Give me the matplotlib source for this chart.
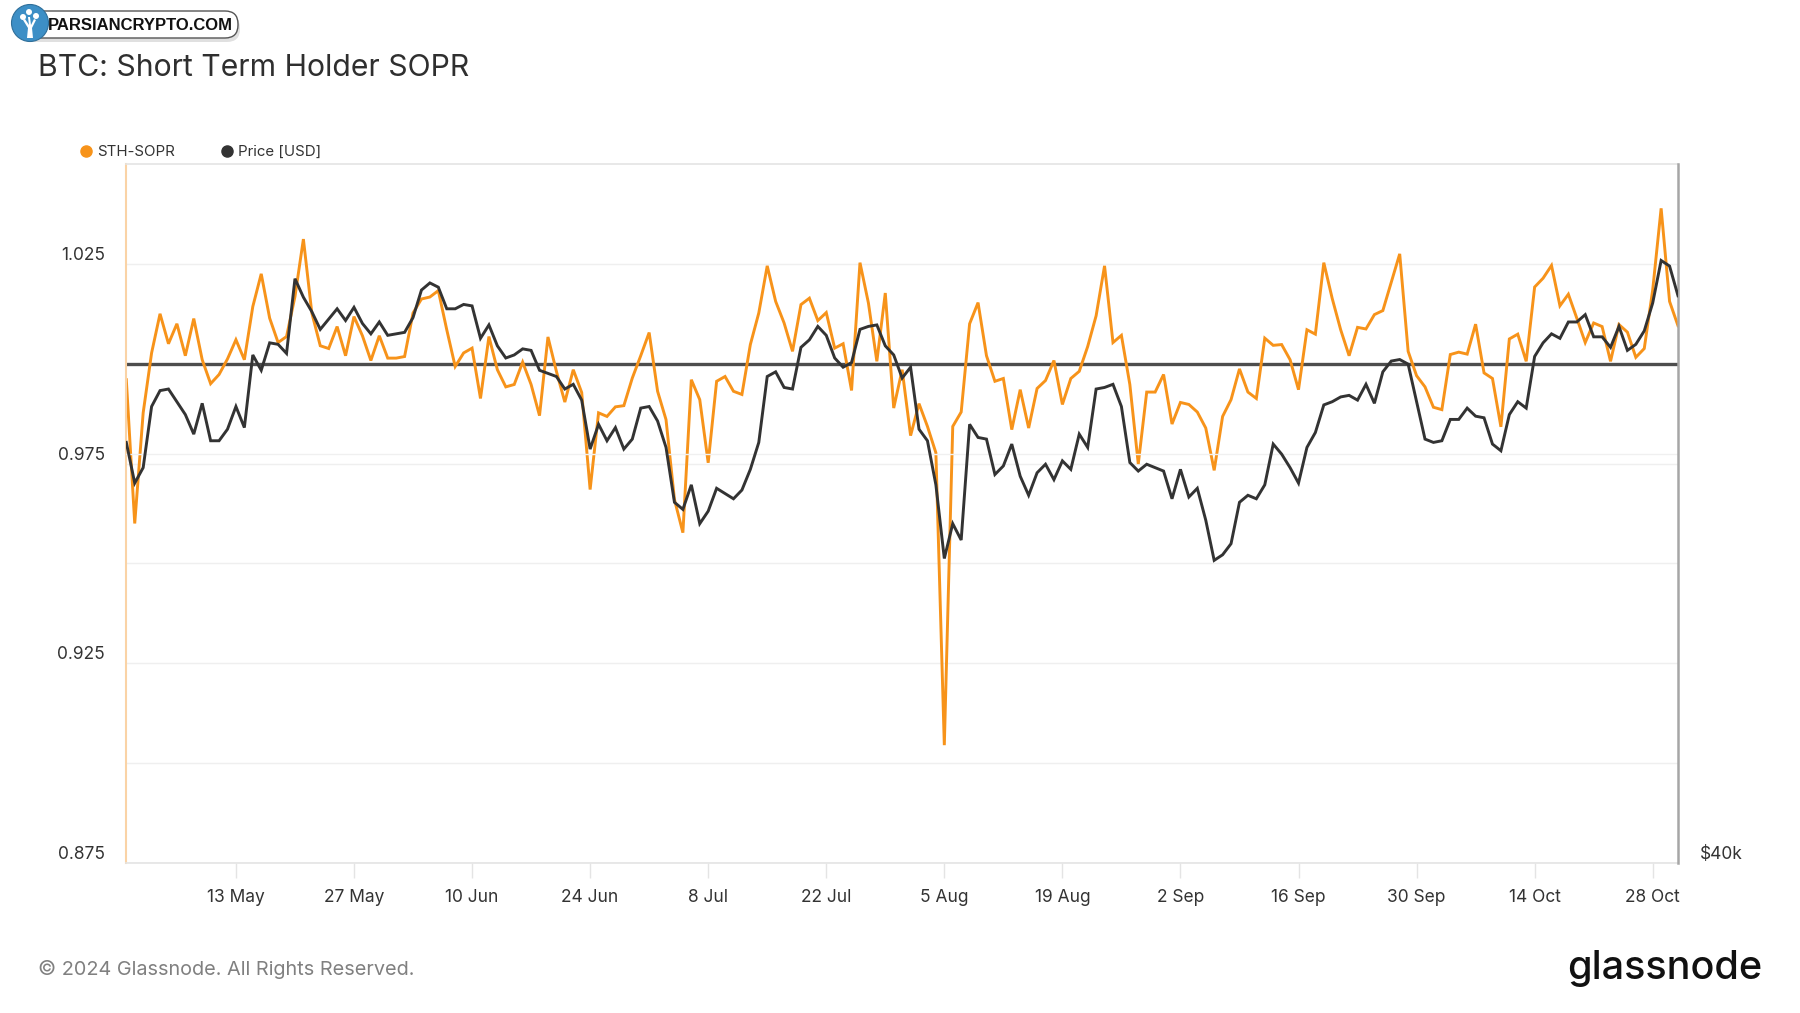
import matplotlib
matplotlib.use("Agg")
import matplotlib.pyplot as plt
import matplotlib.dates as mdates
from matplotlib.lines import Line2D
from matplotlib.patches import FancyBboxPatch, Circle, Polygon
from matplotlib.ticker import FixedLocator, NullFormatter, FixedFormatter
import pandas as pd
import numpy as np

# ---------------- data ----------------
start_date = "2024-04-30"

sth_sopr = [
    0.996, 0.960, 0.9877, 1.0027, 1.0125, 1.005, 1.010, 1.002, 1.0113, 1.001,
    0.995, 0.9973, 1.0012, 1.006, 1.001, 1.0143, 1.0225, 1.0114, 1.0053, 1.0068,
    1.0168, 1.0312, 1.0127, 1.0045, 1.0038, 1.0093, 1.002, 1.0118, 1.007, 1.0008,
    1.007, 1.0014, 1.0014, 1.0018, 1.0127, 1.0162, 1.0167, 1.0183, 1.0085, 0.9993,
    1.0027, 1.0039, 0.9913, 1.0068, 0.9985, 0.9942, 0.9948, 1.0004, 0.9948, 0.987,
    1.0067, 0.9981, 0.9904, 0.9985, 0.9928, 0.9685, 0.9877, 0.9868, 0.9892, 0.9895,
    0.9964, 1.002, 1.0078, 0.9931, 0.986, 0.966, 0.9577, 0.996, 0.991, 0.9752,
    0.9956, 0.9968, 0.9931, 0.9923, 1.0048, 1.0127, 1.0245, 1.0156, 1.0102, 1.0031,
    1.0148, 1.0164, 1.0108, 1.0128, 1.0039, 1.005, 0.9933, 1.0253, 1.0152, 1.0006,
    1.0177, 0.9889, 0.9985, 0.982, 0.990, 0.9843, 0.9777, 0.9045, 0.9843, 0.9879,
    1.010, 1.0153, 1.002, 0.9956, 0.9963, 0.9835, 0.9935, 0.9839, 0.9938, 0.9958,
    1.0008, 0.9898, 0.9963, 0.9981, 1.0043, 1.012, 1.0245, 1.0053, 1.0071, 0.9948,
    0.9749, 0.9929, 0.9929, 0.9973, 0.9849, 0.9903, 0.9898, 0.9879, 0.9839, 0.9733,
    0.9868, 0.991, 0.9987, 0.9929, 0.9913, 1.0064, 1.0046, 1.0048, 1.001, 0.9935,
    1.0085, 1.0074, 1.0253, 1.0163, 1.0085, 1.002, 1.0091, 1.0087, 1.0123, 1.0133,
    1.0204, 1.0275, 1.0031, 0.997, 0.9942, 0.9891, 0.9885, 1.0023, 1.0029, 1.0024,
    1.0099, 0.9977, 0.9963, 0.9842, 1.0062, 1.0074, 1.0006, 1.0192, 1.0214, 1.0246,
    1.0145, 1.0174, 1.0114, 1.0053, 1.0102, 1.0093, 1.0006, 1.0098, 1.0079, 1.0016,
    1.0038, 1.0185, 1.0389, 1.0156, 1.0095,
]

price_k = [
    60.7, 58.3, 59.2, 62.9, 63.9, 64.0, 63.2, 62.4, 61.2, 63.1,
    60.8, 60.8, 61.5, 62.9, 61.6, 66.2, 65.2, 67.0, 66.9, 66.3,
    71.4, 70.1, 69.1, 67.9, 68.6, 69.3, 68.5, 69.4, 68.3, 67.6,
    68.4, 67.5, 67.6, 67.7, 68.7, 70.6, 71.1, 70.8, 69.3, 69.3,
    69.6, 69.5, 67.3, 68.2, 66.8, 66.0, 66.2, 66.6, 66.5, 65.2,
    65.0, 64.8, 64.0, 64.3, 63.3, 60.3, 61.8, 60.8, 61.6, 60.3,
    60.9, 62.8, 62.9, 62.0, 60.4, 57.2, 56.8, 58.2, 56.0, 56.7,
    58.0, 57.7, 57.4, 57.9, 59.1, 60.7, 64.8, 65.1, 64.1, 64.0,
    66.7, 67.2, 68.1, 67.5, 66.0, 65.4, 65.7, 67.9, 68.1, 68.2,
    66.8, 66.2, 64.7, 65.4, 61.5, 60.8, 58.2, 54.1, 56.0, 55.1,
    61.8, 61.0, 60.9, 58.8, 59.3, 60.6, 58.7, 57.6, 58.9, 59.4,
    58.5, 59.6, 59.1, 61.2, 60.4, 64.0, 64.1, 64.3, 62.9, 59.5,
    59.0, 59.4, 59.2, 59.0, 57.4, 59.1, 57.5, 58.0, 56.2, 54.0,
    54.3, 54.9, 57.2, 57.6, 57.4, 58.2, 60.6, 60.0, 59.2, 58.3,
    60.4, 61.3, 63.0, 63.2, 63.5, 63.6, 63.3, 64.3, 63.1, 65.1,
    65.8, 65.9, 65.6, 63.2, 60.9, 60.7, 60.8, 62.1, 62.1, 62.8,
    62.3, 62.2, 60.6, 60.2, 62.4, 63.2, 62.8, 66.1, 67.0, 67.6,
    67.3, 68.4, 68.4, 68.9, 67.4, 67.4, 66.7, 68.1, 66.5, 66.9,
    67.8, 69.7, 72.7, 72.3, 70.2,
]

x_tick_dates = ["2024-05-13", "2024-05-27", "2024-06-10", "2024-06-24", "2024-07-08",
                "2024-07-22", "2024-08-05", "2024-08-19", "2024-09-02", "2024-09-16",
                "2024-09-30", "2024-10-14", "2024-10-28"]
sopr_major_ticks = [0.875, 0.925, 0.975, 1.025]
sopr_minor_ticks = [0.900, 0.950, 1.000]
price_label_ticks = [40000]
price_grid_ticks = [60000]

dates = pd.date_range(start_date, periods=len(sth_sopr), freq="D")
price_dates = pd.date_range(start_date, periods=len(price_k), freq="D")
price_usd = [p * 1000 for p in price_k]

# ---------------- styling ----------------
plt.rcParams['font.family'] = ['Inter', 'DejaVu Sans']
ORANGE = "#F7931A"
DARK = "#333333"
W, H = 1800, 1013

fig = plt.figure(figsize=(W / 100, H / 100), dpi=100)
fig.patch.set_facecolor("white")

ax = fig.add_axes([126.3 / W, 1 - 863 / H, (1678 - 126.3) / W, (863 - 164) / H])
ax.set_facecolor("white")

# reference line at 1 and SOPR line
ax.axhline(1.0, color="#4d4d4d", lw=2.4, zorder=1.5)
ax.plot(dates, sth_sopr, color=ORANGE, lw=2.1, zorder=2, solid_joinstyle="miter")

ax.set_ylim(0.875, 1.05)
ax.set_xlim(dates[0], dates[-1])

ax.yaxis.set_major_locator(FixedLocator(sopr_major_ticks))
ax.yaxis.set_minor_locator(FixedLocator(sopr_minor_ticks))
ax.yaxis.set_major_formatter(FixedFormatter([f"{v:.3f}" for v in sopr_major_ticks]))
ax.yaxis.set_minor_formatter(NullFormatter())
ax.grid(True, which="both", axis="y", color="#efefef", lw=1.0, zorder=0)
ax.set_axisbelow(True)
ax.tick_params(axis="y", which="both", length=0, pad=15.5, labelsize=12.5, labelcolor=DARK)
for lab in ax.get_yticklabels():
    lab.set_verticalalignment("bottom")

xt = pd.to_datetime(x_tick_dates)
ax.set_xticks(xt)
ax.set_xticklabels([f"{d.day} {d.strftime('%b')}" for d in xt])
ax.tick_params(axis="x", direction="out", length=10.5, width=1, color="#e4e4e4",
               pad=8, labelsize=12.5, labelcolor=DARK)

for s in ["top", "bottom"]:
    ax.spines[s].set_color("#e4e4e4")
    ax.spines[s].set_linewidth(1.2)
ax.spines["left"].set_color("#FAD3A6")
ax.spines["left"].set_linewidth(1.5)
ax.spines["right"].set_visible(False)

# price axis
ax2 = ax.twinx()
ax2.set_yscale("log")
ax2.plot(price_dates, price_usd, color=DARK, lw=2.1, zorder=3, solid_joinstyle="miter")
ax2.set_ylim(40000, 80000)
ax2.yaxis.set_major_locator(FixedLocator(price_label_ticks))
ax2.yaxis.set_major_formatter(FixedFormatter(["$40k"]))
ax2.yaxis.set_minor_locator(FixedLocator(price_grid_ticks))
ax2.yaxis.set_minor_formatter(NullFormatter())
ax2.grid(True, which="minor", axis="y", color="#f0f0f0", lw=1.0)
ax2.tick_params(axis="y", which="both", length=0, pad=16, labelsize=12.5, labelcolor=DARK)
for lab in ax2.get_yticklabels():
    lab.set_verticalalignment("bottom")
for s in ["top", "bottom", "left"]:
    ax2.spines[s].set_visible(False)
ax2.spines["right"].set_color("#a6a6a6")
ax2.spines["right"].set_linewidth(1.8)

# ---------------- texts ----------------
fig.text(38 / W, 1 - 67.5 / H, "BTC: Short Term Holder SOPR", fontsize=21.7,
         color="#2f2f2f", va="center", ha="left")

# legend
leg_y = 1 - 151.5 / H
fig.add_artist(Line2D([86 / W], [leg_y], marker="o", ms=8, color=ORANGE,
                      linestyle="none", transform=fig.transFigure))
fig.text(97 / W, leg_y, "STH-SOPR", fontsize=10.8, color=DARK, va="center")
fig.add_artist(Line2D([227 / W], [leg_y], marker="o", ms=8, color=DARK,
                      linestyle="none", transform=fig.transFigure))
fig.text(238 / W, leg_y, "Price [USD]", fontsize=10.8, color=DARK, va="center")

fig.text(38 / W, 1 - 969 / H, "© 2024 Glassnode. All Rights Reserved.",
         fontsize=14.3, color="#808080", va="center", ha="left")
fig.text(1762 / W, 1 - 968 / H, "glassnode", fontsize=28.5, color="#111111",
         va="center", ha="right", fontweight="medium")

# ---------------- watermark ----------------
tr = fig.dpi_scale_trans
def px(x, y):
    return (x / 100.0, (H - y) / 100.0)

shadow = FancyBboxPatch(px(18, 42), 2.22, 0.27,
                        boxstyle="round,pad=0,rounding_size=0.13",
                        transform=tr, facecolor="#000000", alpha=0.12,
                        edgecolor="none")
fig.add_artist(shadow)
box = FancyBboxPatch(px(16, 38), 2.22, 0.27,
                     boxstyle="round,pad=0,rounding_size=0.13",
                     transform=tr, facecolor="white", edgecolor="#555555",
                     linewidth=1.0)
fig.add_artist(box)
fig.add_artist(Circle(px(30, 23), 0.185, transform=tr, facecolor="#3d8fc6",
                      edgecolor="#2f6f9a", linewidth=0.8))
# simple white tree glyph
fig.add_artist(Polygon([px(27, 38), px(33, 38), px(32, 28), px(36, 20), px(34, 19),
                        px(31, 25), px(30, 17), px(28, 17), px(29, 25),
                        px(25, 19), px(23, 20), px(28, 28)],
                       closed=True, transform=tr, facecolor="white", edgecolor="none"))
for cx, cy in [(23, 17), (29, 12), (36, 16)]:
    fig.add_artist(Circle(px(cx, cy), 0.03, transform=tr, facecolor="white",
                          edgecolor="none"))
fig.text(48 / W, 1 - 25 / H, "PARSIANCRYPTO.COM", fontsize=12, fontweight="bold",
         color="#111111", va="center", ha="left", family=["Liberation Sans", "DejaVu Sans"])

fig.savefig("out.png", dpi=100, facecolor="white")
